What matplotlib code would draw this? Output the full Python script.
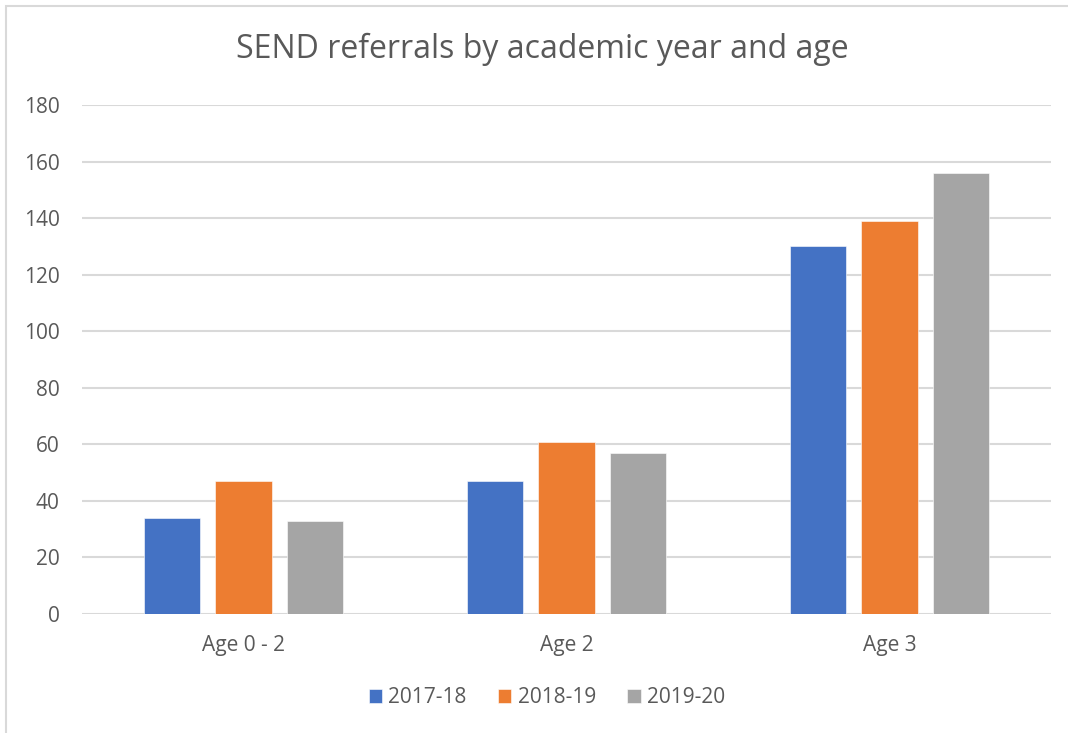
import numpy as np
import matplotlib.pyplot as plt
from matplotlib.patches import Rectangle

# Referrals per age group, one list per academic year
categories = ['Age 0 - 2', 'Age 2', 'Age 3']
years = ['2017-18', '2018-19', '2019-20']
y2017 = [34, 47, 130]
y2018 = [47, 61, 139]
y2019 = [33, 57, 156]
colors = ['#4472C4', '#ED7D31', '#A5A5A5']

plt.rcParams['font.family'] = ['Open Sans', 'DejaVu Sans']
text_col = '#595959'

fig = plt.figure(figsize=(10.68, 7.33), dpi=100)
ax = fig.add_axes([0.0768, 0.1623, 0.9072, 0.6945])

# chart frame (light grey, left and top edges visible)
fig.patches.append(Rectangle((6 / 1068, -0.1), 1.2, 1 - 6 / 733 + 0.1,
                             transform=fig.transFigure, fill=False,
                             edgecolor='#d9d9d9', lw=1.5))

x = np.arange(len(categories))
w = 0.174
step = 0.222
for i, (vals, lab) in enumerate(zip([y2017, y2018, y2019], years)):
    ax.bar(x + (i - 1) * step, vals, width=w, color=colors[i], label=lab,
           edgecolor='white', linewidth=0.4, zorder=3)

ax.set_xlim(-0.5, 2.5)
ax.set_ylim(0, 180)
ax.set_yticks(range(0, 181, 20))
ax.set_xticks(x)
ax.set_xticklabels(categories)
ax.grid(axis='y', color='#d9d9d9', lw=1.5, zorder=0)
for s in ax.spines.values():
    s.set_visible(False)
ax.tick_params(length=0, labelsize=15, labelcolor=text_col)
ax.tick_params(axis='y', pad=16)
ax.tick_params(axis='x', pad=15)

fig.text(0.508, 0.933, 'SEND referrals by academic year and age',
         ha='center', va='center', fontsize=23, color=text_col)

fig.legend(loc='center', bbox_to_anchor=(0.512, 0.048), ncol=3, frameon=False,
           fontsize=15, labelcolor=text_col, handlelength=0.65, handleheight=0.65,
           handletextpad=0.3, columnspacing=1.5)

fig.savefig('out.png', dpi=100)
